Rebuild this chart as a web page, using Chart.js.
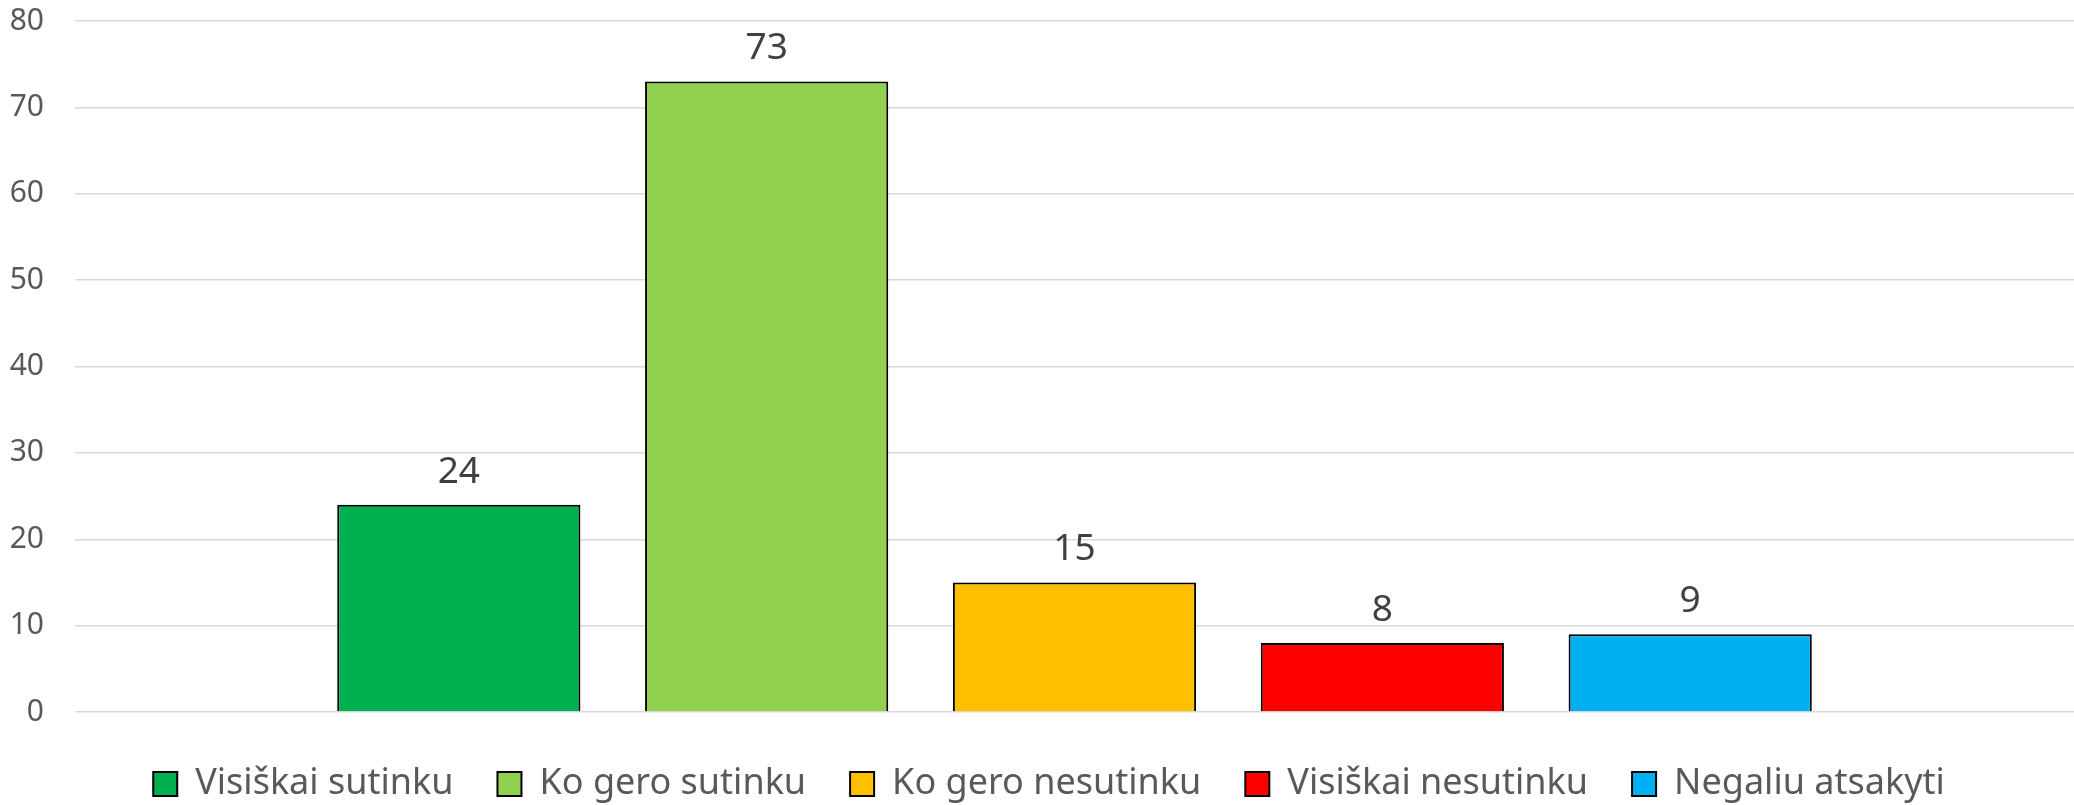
<!DOCTYPE html>
<html>
<head>
<meta charset="utf-8">
<script src="https://cdn.jsdelivr.net/npm/chart.js@4.4.0/dist/chart.umd.min.js"></script>
<style>
  body { margin: 0; background: #fff; }
</style>
</head>
<body>
<canvas id="myChart" width="2074" height="805"></canvas>
<script>
const categories = [''];
const seriesNames = ['Visiškai sutinku', 'Ko gero sutinku', 'Ko gero nesutinku', 'Visiškai nesutinku', 'Negaliu atsakyti'];
const seriesValues = [24, 73, 15, 8, 9];
const seriesColors = ['#00B050', '#92D050', '#FFC000', '#FF0000', '#00B0F0'];
const yTicks = [0, 10, 20, 30, 40, 50, 60, 70, 80];

// values above the bars
const barLabels = {
    id: 'barLabels',
    afterDatasetsDraw(chart) {
        const c = chart.ctx;
        c.save();
        c.font = '37px "Noto Sans"';
        c.fillStyle = '#404040';
        c.textAlign = 'center';
        c.textBaseline = 'alphabetic';
        chart.data.datasets.forEach((ds, i) => {
            chart.getDatasetMeta(i).data.forEach((bar, j) => {
                c.fillText(ds.data[j], bar.x, bar.y - 22);
            });
        });
        c.restore();
    }
};

// nudge the legend a bit to the right, like the original
const legendShift = {
    id: 'legendShift',
    afterLayout(chart) {
        chart.legend.left += 12;
        chart.legend.right += 12;
    }
};

const ctx = document.getElementById('myChart');

const myChart = new Chart(ctx, {
    type: 'bar',
    data: {
        labels: categories,
        datasets: seriesNames.map((name, i) => ({
            label: name,
            data: [seriesValues[i]],
            backgroundColor: seriesColors[i],
            borderColor: '#000',
            borderWidth: 2,
            borderSkipped: 'bottom',
            categoryPercentage: 0.77,
            barPercentage: 0.79
        }))
    },
    options: {
        responsive: false,
        animation: false,
        layout: { padding: { top: 21, left: 0, right: 0, bottom: -7 } },
        plugins: {
            tooltip: { enabled: false },
            legend: {
                position: 'bottom',
                labels: {
                    boxWidth: 24,
                    boxHeight: 24,
                    padding: 44,
                    color: '#595959',
                    font: { family: 'Noto Sans', size: 36 }
                }
            }
        },
        scales: {
            x: {
                display: true,
                grid: { display: false },
                border: { display: false },
                ticks: { display: false },
                afterFit: (scale) => { scale.height = 10; }
            },
            y: {
                min: 0,
                max: 80,
                afterBuildTicks: (scale) => { scale.ticks = yTicks.map(v => ({ value: v })); },
                afterFit: (scale) => {
                    scale.width = 75;
                    scale.paddingTop = 0;
                    scale.paddingBottom = 0;
                },
                border: { display: false },
                grid: { color: '#d9d9d9', lineWidth: 1.5, drawTicks: false },
                ticks: {
                    padding: 31,
                    color: '#595959',
                    font: { family: 'Noto Sans', size: 30 }
                }
            }
        }
    },
    plugins: [barLabels, legendShift]
});
</script>
</body>
</html>
